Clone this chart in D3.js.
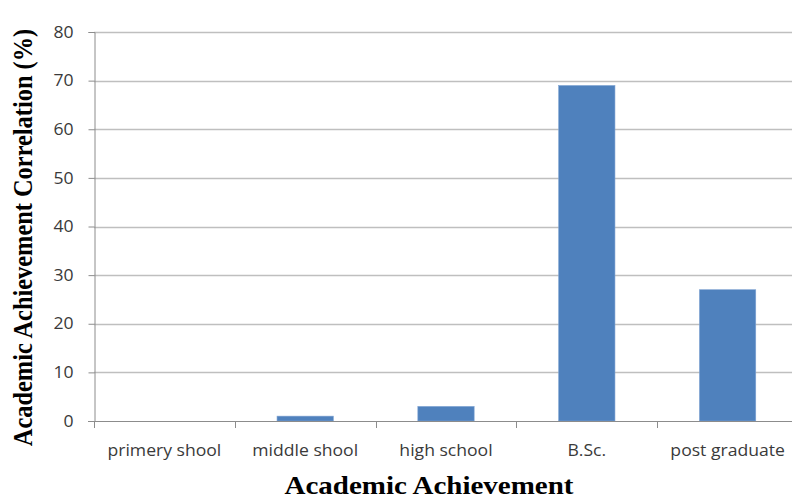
<!DOCTYPE html>
<html>
<head>
<meta charset="utf-8">
<script src="https://cdn.jsdelivr.net/npm/d3@7"></script>
<style>
  html, body { margin: 0; padding: 0; background: #fff; }
  svg { display: block; }
</style>
</head>
<body>
<svg id="chart" width="792" height="499"></svg>
<script>
// Academic achievement levels and their correlation percentages
const categories = ["primery shool", "middle shool", "high school", "B.Sc.", "post graduate"];
const values = [0, 1, 3, 69, 27];
const yTicks = [0, 10, 20, 30, 40, 50, 60, 70, 80];

const svg = d3.select("#chart");
const margin = { left: 94, right: -6, top: 32, bottom: 78 };
const width = 792, height = 499;
const stretch = 1.1; // horizontal widening applied to the axis lettering

const x = d3.scaleBand()
  .domain(categories)
  .range([margin.left, width - margin.right])
  .paddingInner(0.6)
  .paddingOuter(0.3);

const y = d3.scaleLinear()
  .domain([0, 80])
  .range([height - margin.bottom, margin.top]);

// Horizontal gridlines
svg.append("g")
  .selectAll("line")
  .data(yTicks.filter(d => d > 0))
  .join("line")
  .attr("x1", margin.left)
  .attr("x2", width)
  .attr("y1", d => Math.round(y(d)) + 0.5)
  .attr("y2", d => Math.round(y(d)) + 0.5)
  .attr("stroke", "#bfbfbf")
  .attr("stroke-width", 1.3);

// Y axis (line and ticks)
const yAxis = svg.append("g")
  .attr("transform", `translate(${margin.left + 0.5},0)`)
  .call(d3.axisLeft(y).tickValues(yTicks).tickSize(6));
yAxis.select(".domain").attr("stroke", "#8c8c8c");
yAxis.selectAll(".tick line").attr("stroke", "#8c8c8c");
yAxis.selectAll(".tick text").remove();

// Y tick labels
svg.append("g")
  .selectAll("text")
  .data(yTicks)
  .join("text")
  .attr("transform", d => `translate(73.5,${y(d) + 5.7}) scale(${stretch},1)`)
  .attr("text-anchor", "end")
  .attr("font-family", "'Open Sans', sans-serif")
  .attr("font-size", 16)
  .attr("fill", "#3a3a3a")
  .text(d => d);

// Bars
svg.append("g")
  .selectAll("rect")
  .data(categories.map((c, i) => ({ c, v: values[i] })).filter(d => d.v > 0))
  .join("rect")
  .attr("x", d => x(d.c))
  .attr("width", x.bandwidth())
  .attr("y", d => y(d.v))
  .attr("height", d => y(0) - y(d.v))
  .attr("fill", "#4f81bd")
  .attr("stroke", "#7fa3d2")
  .attr("stroke-width", 0.6);

// X axis with category boundary ticks
const x0 = y(0);
const xAxis = svg.append("g");
xAxis.append("line")
  .attr("x1", margin.left - 6)
  .attr("x2", width)
  .attr("y1", Math.round(x0) + 0.5)
  .attr("y2", Math.round(x0) + 0.5)
  .attr("stroke", "#8c8c8c")
  .attr("stroke-width", 1.2);
const boundaries = categories.map(c => x(c) - (x.step() - x.bandwidth()) / 2);
xAxis.selectAll("line.bnd")
  .data(boundaries)
  .join("line")
  .attr("class", "bnd")
  .attr("x1", d => Math.round(d) + 0.5)
  .attr("x2", d => Math.round(d) + 0.5)
  .attr("y1", x0)
  .attr("y2", x0 + 7)
  .attr("stroke", "#8c8c8c");
xAxis.selectAll("text")
  .data(categories)
  .join("text")
  .attr("transform", d => `translate(${x(d) + x.bandwidth() / 2},${x0 + 34.5}) scale(${stretch},1)`)
  .attr("text-anchor", "middle")
  .attr("font-family", "'Open Sans', sans-serif")
  .attr("font-size", 16)
  .attr("fill", "#3a3a3a")
  .text(d => d);

// Axis titles
svg.append("text")
  .attr("transform", `translate(32,${(margin.top + height - margin.bottom) / 2 + 11}) scale(1.16,1) rotate(-90)`)
  .attr("text-anchor", "middle")
  .attr("font-family", "'Liberation Serif', 'Times New Roman', serif")
  .attr("font-weight", "bold")
  .attr("font-size", 24.4)
  .attr("fill", "#000")
  .text("Academic Achievement Correlation (%)");

svg.append("text")
  .attr("transform", `translate(429,494) scale(1.16,1)`)
  .attr("text-anchor", "middle")
  .attr("font-family", "'Liberation Serif', 'Times New Roman', serif")
  .attr("font-weight", "bold")
  .attr("font-size", 25)
  .attr("fill", "#000")
  .text("Academic Achievement");
</script>
</body>
</html>
